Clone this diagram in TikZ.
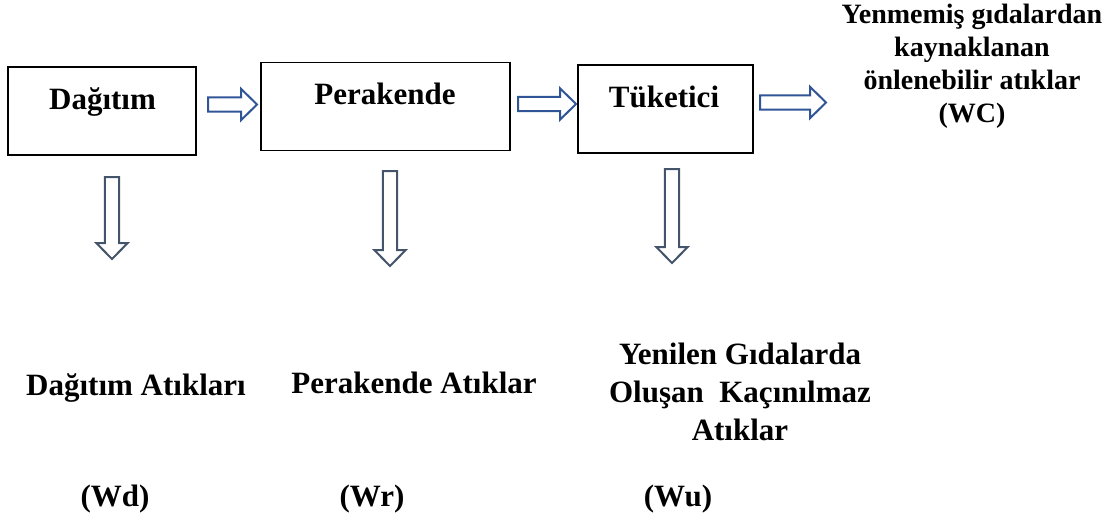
\documentclass[tikz,border=0pt]{standalone}
\usepackage{fontspec}
\setmainfont{Liberation Serif}
\usetikzlibrary{calc,positioning}
\definecolor{flowblue}{HTML}{2F5597}
\definecolor{drainblue}{HTML}{44546A}
\newcommand{\shaftwidth}{5.4pt}
\newcommand{\headwidth}{11.8pt}
\newcommand{\headlength}{12pt}
\newcommand{\stagefont}{\fontsize{23.25}{28.5}\selectfont\bfseries}
\newcommand{\sidefont}{\fontsize{21}{24.75}\selectfont\bfseries}
\newcommand{\boxonewidth}{141pt}
\newcommand{\boxtwowidth}{186.75pt}
\newcommand{\boxthreewidth}{131.25pt}
\newcommand{\boxheight}{66pt}

\begin{document}
\begin{tikzpicture}[x=0.75pt,y=-0.75pt]

\useasboundingbox (0,0) rectangle (1113,518);

\tikzstyle{stage}=[draw,line width=1.4pt,inner sep=0pt,minimum height=\boxheight]
\tikzstyle{stagetext}=[font=\stagefont,inner sep=0pt,anchor=base]
\tikzstyle{blockarrow}=[line width=1.5pt,line join=miter,to path={
  ($(\tikztostart)!\shaftwidth!90:(\tikztotarget)$)
  -- ($(\tikztotarget)!\headlength!(\tikztostart)!\shaftwidth!90:(\tikztotarget)$)
  -- ($(\tikztotarget)!\headlength!(\tikztostart)!\headwidth!90:(\tikztotarget)$)
  -- (\tikztotarget)
  -- ($(\tikztotarget)!\headlength!(\tikztostart)!\headwidth!-90:(\tikztotarget)$)
  -- ($(\tikztotarget)!\headlength!(\tikztostart)!\shaftwidth!-90:(\tikztotarget)$)
  -- ($(\tikztostart)!\shaftwidth!-90:(\tikztotarget)$)
  -- cycle}]

%% three stage boxes
\node (boxone) [stage, minimum width=\boxonewidth] at (102,111) {};
\node (boxtwo) [stage, minimum width=\boxtwowidth] at (385.5,106.5) {};
\node (boxthree) [stage, minimum width=\boxthreewidth] at (665.5,109) {};

%% box labels (sit in the upper half)
\node (dagtext) [stagetext] at (102.5,109) {Dağıtım};
\node (pertext) [stagetext] at (385,104) {Perakende};
\node (tuktext) [stagetext] at (664,107) {Tüketici};

%% flow arrows between the stages
\coordinate (flowonestart) at (208,104.5);
\coordinate (flowoneend) at (257,104.5);
\coordinate (flowtwostart) at (518,104);
\coordinate (flowtwoend) at (576,104);
\coordinate (flowthreestart) at (760,102.5);
\coordinate (flowthreeend) at (826,102.5);
\draw[blockarrow,draw=flowblue] (flowonestart) to (flowoneend);
\draw[blockarrow,draw=flowblue] (flowtwostart) to (flowtwoend);
\draw[blockarrow,draw=flowblue] (flowthreestart) to (flowthreeend);

%% waste arrows going down
\coordinate (drainonestart) at (112,177);
\coordinate (drainoneend) at (112,259);
\coordinate (draintwostart) at (390,171);
\coordinate (draintwoend) at (390,266);
\coordinate (drainthreestart) at (672,169);
\coordinate (drainthreeend) at (672,263);
\draw[blockarrow,draw=drainblue] (drainonestart) to (drainoneend);
\draw[blockarrow,draw=drainblue] (draintwostart) to (draintwoend);
\draw[blockarrow,draw=drainblue] (drainthreestart) to (drainthreeend);

%% leftover text at the right
\node (leftover) [font=\sidefont, align=center, inner sep=0pt, anchor=north] at (972,4) {Yenmemiş gıdalardan\\kaynaklanan\\önlenebilir atıklar\\(WC)};

%% waste names
\node (wasteone) [stagetext] at (136,395) {Dağıtım Atıkları};
\node (wastetwo) [stagetext] at (414,393) {Perakende Atıklar};
\node (wastethree) [font=\stagefont, align=center, inner sep=0pt, anchor=north] at (740,343) {Yenilen Gıdalarda\\Oluşan~ Kaçınılmaz\\Atıklar};

%% waste codes
\node (codeone) [stagetext] at (115,506) {(Wd)};
\node (codetwo) [stagetext] at (372,506) {(Wr)};
\node (codethree) [stagetext] at (678,506) {(Wu)};

\end{tikzpicture}
\end{document}
